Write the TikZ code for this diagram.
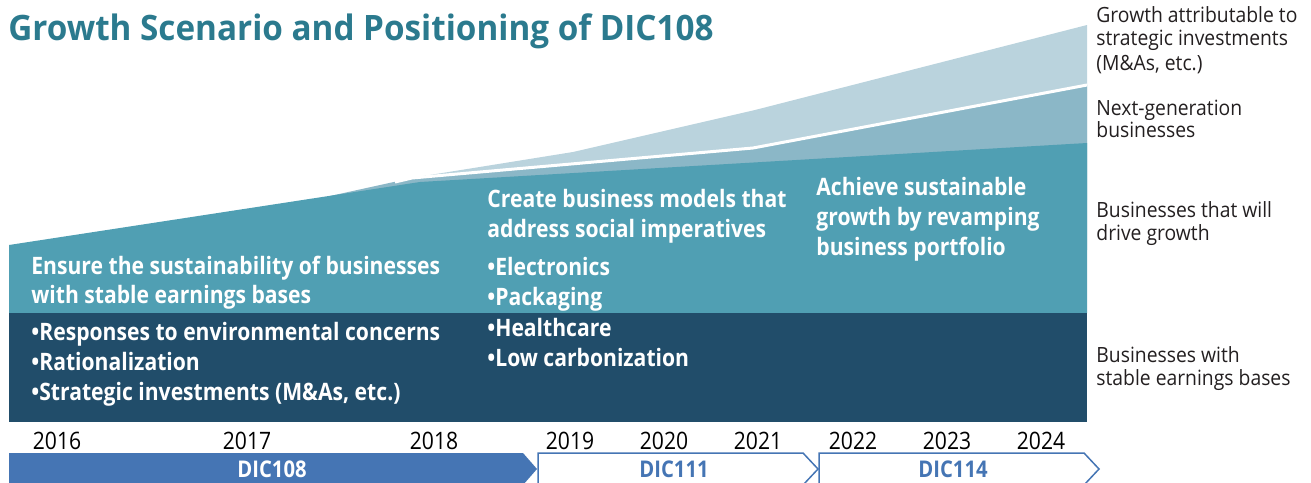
\documentclass[tikz,border=0pt]{standalone}
\usepackage{fontspec}
\setmainfont{Open Sans}
\newfontfamily\condfont[FakeStretch=0.88]{Open Sans}
\newfontfamily\titlefont[FakeStretch=0.95]{Open Sans}
\newfontfamily\labelfont[FakeStretch=0.92]{Open Sans}
\usepackage{xcolor}
\definecolor{titleteal}{HTML}{2B7A8E}
\definecolor{basedark}{HTML}{214D6A}
\definecolor{growteal}{HTML}{509FB3}
\definecolor{nextgen}{HTML}{8BB7C7}
\definecolor{invlight}{HTML}{BAD3DD}
\definecolor{dicblue}{HTML}{4575B4}
\definecolor{labelgray}{HTML}{231F20}
\usepackage{tikz}
\usetikzlibrary{positioning}
\tikzset{
  headtext/.style ={ font=\condfont\bfseries\fontsize{12}{14}\selectfont, text=white,
                     anchor=base west, inner sep=0pt },
  pointtext/.style={ headtext },
  sidelabel/.style={ font=\labelfont\fontsize{10.5}{12}\selectfont, text=labelgray,
                     anchor=base west, inner sep=0pt },
  yearlabel/.style={ font=\condfont\fontsize{12}{14}\selectfont, text=black,
                     anchor=base, inner sep=0pt },
  phasebox/.style ={ draw=dicblue, line width=0.75pt, line join=miter },
  phasetext/.style={ font=\condfont\bfseries\fontsize{11.5}{14}\selectfont,
                     anchor=base, inner sep=0pt }
}

\begin{document}
\begin{tikzpicture}[x=0.5pt,y=-0.5pt]
\useasboundingbox (0,0) rectangle (1311,482);
\clip (0,0) rectangle (1311,482);

% stacked growth bands
\fill[invlight] (405,179) -- (573,152) -- (755,110) -- (1087,25) -- (1087,200) -- (405,200) -- cycle;
\fill[nextgen] (330,196) -- (412,178) -- (753,148) -- (1087,85) -- (1087,250) -- (330,250) -- cycle;
\draw[white,line width=1.5pt] (395,182) -- (412,178) -- (753,148) -- (1087,85);
\fill[growteal] (9,313) -- (9,245) -- (420,182) -- (1087,143) -- (1087,313) -- cycle;
\fill[basedark] (9,313) rectangle (1087,422);

% title
\node[font=\titlefont\bfseries\fontsize{17.5}{20}\selectfont, text=titleteal, anchor=base west, inner sep=0pt]
  (title) at (8,40) {Growth Scenario and Positioning of DIC108};

% DIC108 phase
\node[headtext] (ensure1) at (31,274) {Ensure the sustainability of businesses};
\node[headtext] (ensure2) at ([yshift=-14.5pt]ensure1.base west) {with stable earnings bases};
\node[pointtext] (env) at (31,340) {•Responses to environmental concerns};
\node[pointtext] (rat) at ([yshift=-15pt]env.base west) {•Rationalization};
\node[pointtext] (inv) at ([yshift=-15pt]rat.base west) {•Strategic investments (M\&As, etc.)};

% DIC111 phase
\node[headtext] (create1) at (487,207) {Create business models that};
\node[headtext] (create2) at ([yshift=-15pt]create1.base west) {address social imperatives};
\node[pointtext] (elec) at (487,275) {•Electronics};
\node[pointtext] (pack) at ([yshift=-15pt]elec.base west) {•Packaging};
\node[pointtext] (health) at ([yshift=-15.5pt]pack.base west) {•Healthcare};
\node[pointtext] (lowc) at ([yshift=-15pt]health.base west) {•Low carbonization};

% DIC114 phase
\node[headtext] (achieve1) at (816,195) {Achieve sustainable};
\node[headtext] (achieve2) at ([yshift=-15pt]achieve1.base west) {growth by revamping};
\node[headtext] (achieve3) at ([yshift=-15pt]achieve2.base west) {business portfolio};

% band labels
\node[sidelabel] (strat1) at (1096,22) {Growth attributable to};
\node[sidelabel] (strat2) at ([yshift=-12pt]strat1.base west) {strategic investments};
\node[sidelabel] (strat3) at ([yshift=-12pt]strat2.base west) {(M\&As, etc.)};
\node[sidelabel] (next1) at (1096,115) {Next-generation};
\node[sidelabel] (next2) at ([yshift=-11pt]next1.base west) {businesses};
\node[sidelabel] (drive1) at (1096,217) {Businesses that will};
\node[sidelabel] (drive2) at ([yshift=-11.5pt]drive1.base west) {drive growth};
\node[sidelabel] (stable1) at (1096,362) {Businesses with};
\node[sidelabel] (stable2) at ([yshift=-11.5pt]stable1.base west) {stable earnings bases};

% years
\node[yearlabel] (y2016) at (57,449) {2016};
\node[yearlabel] (y2017) at (247,449) {2017};
\node[yearlabel] (y2018) at (434,449) {2018};
\node[yearlabel] (y2019) at (570,449) {2019};
\node[yearlabel] (y2020) at (664,449) {2020};
\node[yearlabel] (y2021) at (758,449) {2021};
\node[yearlabel] (y2022) at (853,449) {2022};
\node[yearlabel] (y2023) at (947,449) {2023};
\node[yearlabel] (y2024) at (1041,449) {2024};

% plan chevrons
\fill[dicblue] (9,453) -- (523,453) -- (537,469) -- (523,485) -- (9,485) -- cycle;
\draw[phasebox] (538,485) -- (538,453) -- (803,453) -- (818,469) -- (803,485);
\draw[phasebox] (819,485) -- (819,453) -- (1084,453) -- (1099,469) -- (1084,485);
\node[phasetext, text=white] (dic108) at (272,477) {DIC108};
\node[phasetext, text=dicblue] (dic111) at (674,477) {DIC111};
\node[phasetext, text=dicblue] (dic114) at (953,477) {DIC114};

\end{tikzpicture}
\end{document}
